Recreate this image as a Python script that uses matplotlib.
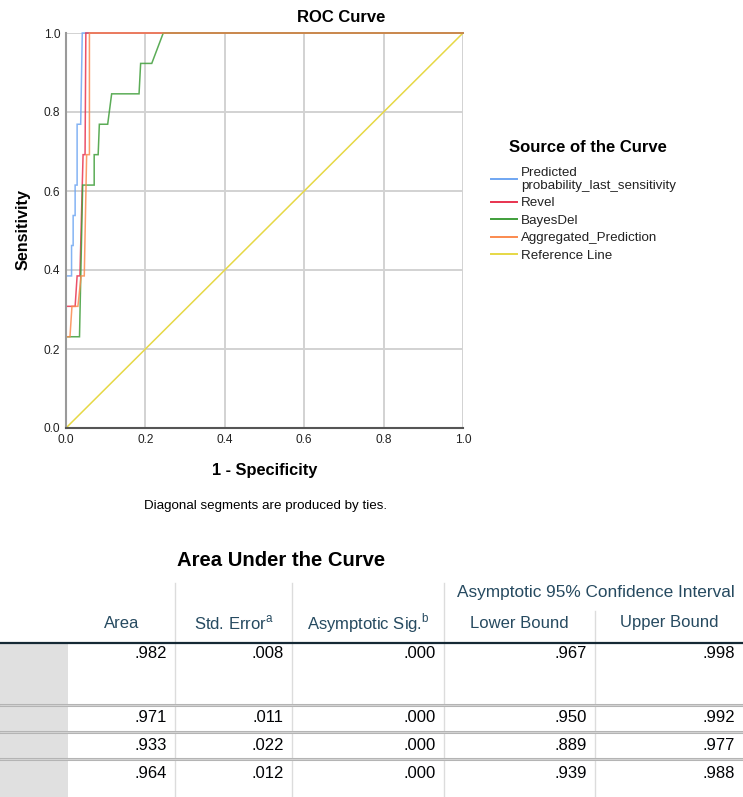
import matplotlib.pyplot as plt
import numpy as np
from matplotlib.ticker import FormatStrFormatter

plt.rcParams['font.family'] = ['Liberation Sans', 'DejaVu Sans']
plt.rcParams['mathtext.fontset'] = 'custom'
plt.rcParams['mathtext.rm'] = 'Liberation Sans'

W, H = 743, 797

# ROC curves: (1 - specificity, sensitivity)
pred_fpr = [0, 0, 0.014, 0.014, 0.018, 0.018, 0.023, 0.023, 0.028, 0.028, 0.037, 0.041, 1.0]
pred_tpr = [0, 0.385, 0.385, 0.462, 0.462, 0.538, 0.538, 0.615, 0.615, 0.769, 0.769, 1.0, 1.0]

revel_fpr = [0, 0, 0.023, 0.028, 0.035, 0.043, 0.048, 0.050, 1.0]
revel_tpr = [0, 0.308, 0.308, 0.385, 0.385, 0.692, 0.692, 1.0, 1.0]

bayes_fpr = [0, 0, 0.034, 0.042, 0.071, 0.071, 0.081, 0.084, 0.105, 0.115, 0.184, 0.188, 0.216, 0.245, 1.0]
bayes_tpr = [0, 0.231, 0.231, 0.615, 0.615, 0.692, 0.692, 0.769, 0.769, 0.846, 0.846, 0.923, 0.923, 1.0, 1.0]

agg_fpr = [0, 0, 0.010, 0.015, 0.030, 0.038, 0.046, 0.052, 0.059, 0.059, 1.0]
agg_tpr = [0, 0.231, 0.231, 0.308, 0.308, 0.385, 0.385, 0.692, 0.692, 1.0, 1.0]

ref_x = [0, 1]
ref_y = [0, 1]

# AUC table
col_labels = ['Area', 'Std. Error$^{\\mathrm{a}}$', 'Asymptotic Sig.$^{\\mathrm{b}}$', 'Lower Bound', 'Upper Bound']
area = [0.982, 0.971, 0.933, 0.964]
std_err = [0.008, 0.011, 0.022, 0.012]
asym_sig = [0.000, 0.000, 0.000, 0.000]
lower_bound = [0.967, 0.950, 0.889, 0.939]
upper_bound = [0.998, 0.992, 0.977, 0.988]


def fx(px):
    return px / W


def fy(py):
    return 1 - py / H


fig = plt.figure(figsize=(W / 100, H / 100), dpi=100)

# --- ROC plot ---
ax = fig.add_axes([fx(66), fy(428), fx(463) - fx(66), fy(33) - fy(428)])
kw = dict(lw=1.1, alpha=0.85, clip_on=False, solid_joinstyle='miter')
l1, = ax.plot(pred_fpr, pred_tpr, color='#6fa6f2', label='Predicted\nprobability_last_sensitivity', **kw)
l2, = ax.plot(revel_fpr, revel_tpr, color='#e8334f', label='Revel', **kw)
l3, = ax.plot(bayes_fpr, bayes_tpr, color='#3f9e3a', label='BayesDel', **kw)
l4, = ax.plot(agg_fpr, agg_tpr, color='#fb8a4e', label='Aggregated_Prediction', **kw)
l5, = ax.plot(ref_x, ref_y, color='#e6d845', lw=1.1, label='Reference Line', clip_on=False, zorder=1.5)

ax.set_xlim(0, 1)
ax.set_ylim(0, 1)
ax.set_xticks(np.arange(0, 1.01, 0.2))
ax.set_yticks(np.arange(0, 1.01, 0.2))
ax.xaxis.set_major_formatter(FormatStrFormatter('%.1f'))
ax.yaxis.set_major_formatter(FormatStrFormatter('%.1f'))
ax.grid(True, color='#d2d2d2', lw=1.4)
ax.set_axisbelow(True)
ax.tick_params(length=0, labelsize=8.6, pad=4, colors='#222222')
for s in ['top', 'right']:
    ax.spines[s].set_visible(False)
ax.spines['left'].set_color('#9a9a9a')
ax.spines['left'].set_linewidth(1.5)
ax.spines['bottom'].set_color('#555555')
ax.spines['bottom'].set_linewidth(1.5)

fig.text(fx(341), fy(18), 'ROC Curve', ha='center', va='center', weight='bold', size=12)
fig.text(fx(23), fy(230), 'Sensitivity', ha='center', va='center', rotation=90, weight='bold', size=11.6)
fig.text(fx(265), fy(470), '1 - Specificity', ha='center', va='center', weight='bold', size=11.8)
fig.text(fx(266), fy(506), 'Diagonal segments are produced by ties.', ha='center', va='center', size=9.6)

# legend (title drawn separately to get the larger gap under it)
fig.text(fx(588), fy(148), 'Source of the Curve', ha='center', va='center', weight='bold', size=12)
leg = ax.legend(handles=[l1, l2, l3, l4, l5], loc='upper left',
                bbox_to_anchor=(fx(491), fy(167)), bbox_transform=fig.transFigure,
                frameon=False, fontsize=9.6, handlelength=1.95, handletextpad=0.3,
                labelspacing=0.38, borderpad=0, borderaxespad=0)
for t in leg.get_texts():
    t.set_linespacing(1.12)
    t.set_color('#222222')
for h in leg.legend_handles:
    h.set_alpha(1)
    h.set_linewidth(1.4)

# --- AUC table ---
tax = fig.add_axes([0, 0, 1, 1], zorder=-1)
tax.set_xlim(0, W)
tax.set_ylim(H, 0)
tax.axis('off')

hdr_color = '#264a60'
num_color = '#010205'
col_edges = [68, 175, 292, 444, 595, 743]
row_y = [654, 718, 745, 773]
sep_y = [705, 732, 759]

tax.text(281, 561, 'Area Under the Curve', ha='center', va='center', weight='bold', size=14.6)

# grey row-label column
tax.fill_between([0, col_edges[0]], 644, H, color='#e0e0e0', lw=0)

# vertical separators
for xe in col_edges[1:-1]:
    top = 611 if xe == 595 else 583
    tax.plot([xe, xe], [top, H], color='#dcdcdc', lw=1)

tax.text((444 + 743) / 2 + 2, 593, 'Asymptotic 95% Confidence Interval', ha='center', va='center',
         size=12.4, color=hdr_color)
for i, lab in enumerate(col_labels):
    cx = (col_edges[i] + col_edges[i + 1]) / 2
    tax.text(cx, 623, lab, ha='center', va='center', size=12, color=hdr_color)

tax.plot([0, W], [643, 643], color='#152935', lw=1.6)
for ys in sep_y:
    tax.plot([0, W], [ys, ys], color='#b4b4b4', lw=2.2)
    tax.plot([0, W], [ys, ys], color='#d8d8d8', lw=0.6)

columns = [area, std_err, asym_sig, lower_bound, upper_bound]
for ci, vals in enumerate(columns):
    xr = col_edges[ci + 1] - 8
    for ri, v in enumerate(vals):
        s = f'{v:.3f}'.lstrip('0')
        tax.text(xr, row_y[ri], s, ha='right', va='center', size=12, color=num_color)

fig.savefig('out.png', dpi=100)
